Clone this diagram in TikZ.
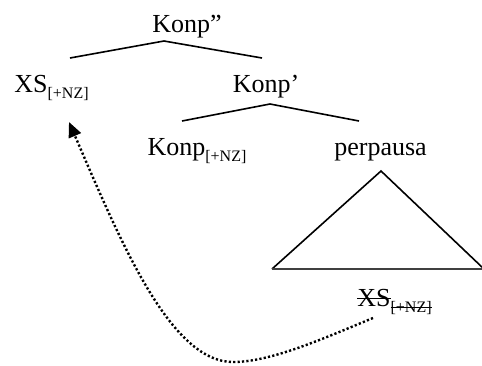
\documentclass[tikz,border=0pt]{standalone}
\usepackage{fontspec}
\setmainfont{Liberation Serif}
\usetikzlibrary{arrows.meta}

\newcommand{\feat}[1]{\raisebox{-3pt}{\fontsize{8}{9}\selectfont #1}}
\newcommand{\strike}[1]{\setbox0\hbox{#1}\rlap{\rule[.55ex]{\wd0}{0.5pt}}\box0}

\begin{document}
\begin{tikzpicture}[x=0.5pt,y=-0.5pt,font=\fontsize{13}{15}\selectfont]
\useasboundingbox (0,0) rectangle (482,365);
\tikzset{branch/.style={line width=0.8pt},
  label/.style={anchor=base,inner sep=0pt},
  movement/.style={line width=1.2pt,dash pattern=on 1.1pt off 1.1pt,
    -{Triangle[length=7.5pt,width=6.5pt]}}}
\node[label] (top) at (187,32) {Konp”};
\node[label] (spec) at (51.5,92) {XS\feat{[+NZ]}};
\node[label] (bar) at (266,92) {Konp’};
\node[label] (head) at (197,155) {Konp\feat{[+NZ]}};
\node[label] (comp) at (380.5,155) {perpausa};
\node[label] (trace) at (394.5,306) {\strike{XS}\feat{\strike{[+NZ]}}};
% branches
\coordinate (topfork) at (164,41);
\coordinate (specend) at (70,58);
\coordinate (barend) at (262,58);
\coordinate (barfork) at (270,104);
\coordinate (headend) at (182,121);
\coordinate (compend) at (359,121);
\path [branch] (topfork) edge (specend);
\path [branch] (topfork) edge (barend);
\path [branch] (barfork) edge (headend);
\path [branch] (barfork) edge (compend);
% triangle under perpausa
\coordinate (triapex) at (381,171);
\coordinate (trileft) at (272,269);
\coordinate (triright) at (484,269);
\draw [branch,line join=miter] (trileft) -- (triapex) -- (triright);
\draw [line width=1.1pt,black!75] (trileft) -- (triright);
% movement
\coordinate (tracefoot) at (373,318);
\coordinate (specfoot) at (69,122);
\draw [movement] (tracefoot) .. controls (320,340) and (270,362) .. (233,362)
  .. controls (170,362) and (120,240) .. (specfoot);
\end{tikzpicture}
\end{document}
